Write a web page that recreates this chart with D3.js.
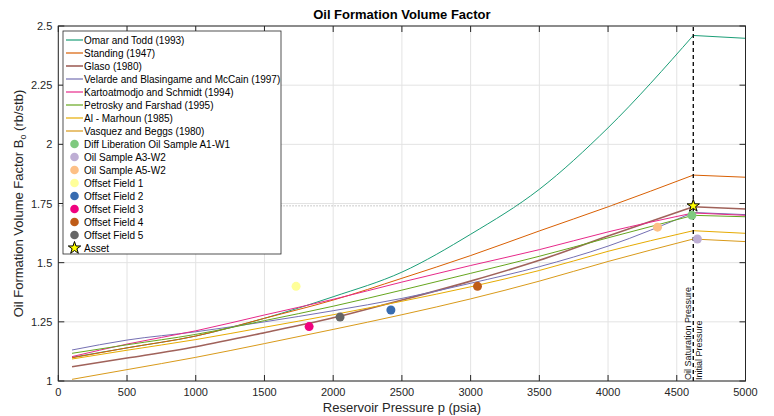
<!DOCTYPE html>
<html lang="en">
<head>
    <meta charset="UTF-8">
    <title>Oil Formation Volume Factor</title>
    <script type="text/javascript" src="https://d3js.org/d3.v7.min.js"></script>
    <style>
        body { margin: 0; background: #fff; }
        text { font-family: "Liberation Sans", Arial, sans-serif; }
    </style>
</head>
<body>
<svg class="bo"></svg>

<script type="text/javascript">

    const width = 774;
    const height = 416;
    const margin = {top: 26, right: 28.5, bottom: 35, left: 58.3};

    // pressure points (psia) at which the correlations were read
    const pressure = [100, 500, 1000, 1500, 2000, 2500, 3000, 3500, 4000, 4620, 5000];

    const omarTodd     = [1.100, 1.140, 1.190, 1.265, 1.356, 1.460, 1.620, 1.810, 2.070, 2.460, 2.448];
    const standing     = [1.098, 1.140, 1.190, 1.265, 1.342, 1.434, 1.530, 1.634, 1.736, 1.870, 1.861];
    const glaso        = [1.060, 1.097, 1.145, 1.204, 1.267, 1.342, 1.422, 1.510, 1.613, 1.736, 1.727];
    const velarde      = [1.131, 1.173, 1.208, 1.250, 1.297, 1.349, 1.413, 1.483, 1.570, 1.712, 1.703];
    const kartoatmodjo = [1.103, 1.156, 1.212, 1.279, 1.345, 1.418, 1.488, 1.555, 1.630, 1.710, 1.700];
    const petrosky     = [1.117, 1.153, 1.197, 1.255, 1.316, 1.384, 1.455, 1.527, 1.605, 1.700, 1.694];
    const alMarhoun    = [1.093, 1.130, 1.175, 1.227, 1.280, 1.337, 1.398, 1.467, 1.548, 1.635, 1.624];
    const vasquez      = [1.007, 1.048, 1.100, 1.158, 1.218, 1.280, 1.347, 1.422, 1.505, 1.600, 1.589];

    const lineNames = ["Omar and Todd (1993)", "Standing (1947)", "Glaso (1980)",
        "Velarde and Blasingame and McCain (1997)", "Kartoatmodjo and Schmidt (1994)",
        "Petrosky and Farshad (1995)", "Al - Marhoun (1985)", "Vasquez and Beggs (1980)"];
    const lineValues = [omarTodd, standing, glaso, velarde, kartoatmodjo, petrosky, alMarhoun, vasquez];
    const lineColors = ["#1b9e77", "#d95f02", "#a0625a", "#7570b3", "#e7298a", "#66a61e", "#e6ab02", "#d99a1a"];

    // measured samples
    const sampleNames = ["Diff Liberation Oil Sample A1-W1", "Oil Sample A3-W2", "Oil Sample A5-W2",
        "Offset Field 1", "Offset Field 2", "Offset Field 3", "Offset Field 4", "Offset Field 5"];
    const samplePressure = [4610, 4650, 4360, 1730, 2420, 1825, 3050, 2050];
    const sampleBo = [1.70, 1.60, 1.65, 1.40, 1.30, 1.23, 1.40, 1.27];
    const sampleColors = ["#7fc97f", "#beaed4", "#fdc086", "#ffff99", "#386cb0", "#f0027f", "#bf5b17", "#666666"];

    const assetName = "Asset";
    const assetPressure = 4620;
    const assetBo = 1.74;
    const bubblePoint = 4620;

    const xTicks = d3.range(0, 5001, 500);
    const yTicks = [1, 1.25, 1.5, 1.75, 2, 2.25, 2.5];

    let svg = d3.select(".bo")
        .attr("width", width)
        .attr("height", height);

    let scaleX = d3.scaleLinear().domain([0, 5000]).range([margin.left, width - margin.right]);
    let scaleY = d3.scaleLinear().domain([1, 2.5]).range([height - margin.bottom, margin.top]);

    const axisColor = "#262626";
    const x0 = scaleX.range()[0], x1 = scaleX.range()[1];
    const y0 = scaleY.range()[0], y1 = scaleY.range()[1];

    // grid
    let grid = svg.append("g");
    grid.selectAll(".gx").data(xTicks).enter().append("line")
        .attr("x1", d => scaleX(d)).attr("x2", d => scaleX(d))
        .attr("y1", y0).attr("y2", y1)
        .attr("stroke", "#e3e3e3").attr("stroke-width", 1);
    grid.selectAll(".gy").data(yTicks).enter().append("line")
        .attr("x1", x0).attr("x2", x1)
        .attr("y1", d => scaleY(d)).attr("y2", d => scaleY(d))
        .attr("stroke", "#e3e3e3").attr("stroke-width", 1);

    // correlation curves: smooth up to bubble point, straight above it
    let curve = d3.line()
        .x(d => scaleX(d[0]))
        .y(d => scaleY(d[1]))
        .curve(d3.curveMonotoneX);
    let straight = d3.line()
        .x(d => scaleX(d[0]))
        .y(d => scaleY(d[1]));

    let lines = svg.append("g");
    lineValues.forEach(function (vals, i) {
        let pts = pressure.map((p, j) => [p, vals[j]]);
        let sat = pts.filter(d => d[0] <= bubblePoint);
        let under = pts.filter(d => d[0] >= bubblePoint);
        lines.append("path").attr("d", curve(sat))
            .attr("fill", "none").attr("stroke", lineColors[i]).attr("stroke-width", i === 2 ? 1.6 : 1);
        lines.append("path").attr("d", straight(under))
            .attr("fill", "none").attr("stroke", lineColors[i]).attr("stroke-width", i === 2 ? 1.6 : 1);
    });

    // reference lines
    svg.append("line")
        .attr("x1", x0).attr("x2", scaleX(assetPressure))
        .attr("y1", scaleY(assetBo)).attr("y2", scaleY(assetBo))
        .attr("stroke", "#aaaaaa").attr("stroke-width", 0.8).attr("stroke-dasharray", "1.5,1.5");
    svg.append("line")
        .attr("x1", scaleX(bubblePoint)).attr("x2", scaleX(bubblePoint))
        .attr("y1", y0).attr("y2", y1)
        .attr("stroke", "#000").attr("stroke-width", 1.3).attr("stroke-dasharray", "4,3");

    svg.append("text")
        .attr("transform", "translate(" + (scaleX(bubblePoint) - 2) + "," + (y0 - 1) + ") rotate(-90)")
        .attr("font-size", 9).attr("fill", "#111")
        .text("Oil Saturation Pressure");
    svg.append("text")
        .attr("transform", "translate(" + (scaleX(bubblePoint) + 9) + "," + (y0 - 1) + ") rotate(-90)")
        .attr("font-size", 9).attr("fill", "#111")
        .text("Initial Pressure");

    // samples
    let pts = svg.append("g");
    pts.selectAll("circle").data(d3.range(sampleNames.length)).enter().append("circle")
        .attr("cx", i => scaleX(samplePressure[i]))
        .attr("cy", i => scaleY(sampleBo[i]))
        .attr("r", 4.5)
        .attr("fill", i => sampleColors[i]);

    let star = d3.symbol().type(d3.symbolStar).size(48);
    svg.append("path")
        .attr("d", star())
        .attr("transform", "translate(" + scaleX(assetPressure) + "," + scaleY(assetBo) + ")")
        .attr("fill", "#ffff00").attr("stroke", "#000").attr("stroke-width", 1);

    // axes (box with inward ticks)
    let axes = svg.append("g").attr("font-size", 11).attr("fill", axisColor);
    axes.append("rect")
        .attr("x", x0).attr("y", y1).attr("width", x1 - x0).attr("height", y0 - y1)
        .attr("fill", "none").attr("stroke", axisColor).attr("stroke-width", 1);
    xTicks.forEach(function (t) {
        let x = scaleX(t);
        axes.append("line").attr("x1", x).attr("x2", x).attr("y1", y0).attr("y2", y0 - 6)
            .attr("stroke", axisColor);
        axes.append("line").attr("x1", x).attr("x2", x).attr("y1", y1).attr("y2", y1 + 6)
            .attr("stroke", axisColor);
        axes.append("text").attr("x", x).attr("y", y0 + 15)
            .attr("text-anchor", "middle").attr("fill", axisColor).text(t);
    });
    yTicks.forEach(function (t) {
        let y = scaleY(t);
        axes.append("line").attr("x1", x0).attr("x2", x0 + 6).attr("y1", y).attr("y2", y)
            .attr("stroke", axisColor);
        axes.append("line").attr("x1", x1).attr("x2", x1 - 6).attr("y1", y).attr("y2", y)
            .attr("stroke", axisColor);
        axes.append("text").attr("x", x0 - 6).attr("y", y + 4)
            .attr("text-anchor", "end").attr("fill", axisColor).text(t);
    });

    // titles
    svg.append("text")
        .attr("x", (x0 + x1) / 2).attr("y", 19)
        .attr("text-anchor", "middle").attr("font-size", 13).attr("font-weight", "bold")
        .attr("fill", "#000")
        .text("Oil Formation Volume Factor");
    svg.append("text")
        .attr("x", (x0 + x1) / 2).attr("y", 412)
        .attr("text-anchor", "middle").attr("font-size", 13).attr("fill", axisColor)
        .text("Reservoir Pressure p (psia)");
    let yl = svg.append("text")
        .attr("transform", "translate(23," + ((y0 + y1) / 2) + ") rotate(-90)")
        .attr("text-anchor", "middle").attr("font-size", 13).attr("fill", axisColor);
    yl.append("tspan").text("Oil Formation Volume Factor B");
    yl.append("tspan").attr("font-size", 9).attr("dy", 3).text("o");
    yl.append("tspan").attr("dy", -3).text(" (rb/stb)");

    // legend
    let legend = svg.append("g").attr("font-size", 10);
    const lx = 63, ly = 31, lw = 218, lh = 223, step = 13;
    legend.append("rect")
        .attr("x", lx).attr("y", ly).attr("width", lw).attr("height", lh)
        .attr("fill", "#fff").attr("stroke", "#262626").attr("stroke-width", 0.8);

    lineNames.forEach(function (name, i) {
        let y = ly + 9 + i * step;
        legend.append("line").attr("x1", lx + 3).attr("x2", lx + 20).attr("y1", y).attr("y2", y)
            .attr("stroke", lineColors[i]).attr("stroke-width", i === 2 ? 1.6 : 1.2);
        legend.append("text").attr("x", lx + 21).attr("y", y + 3.6).attr("fill", "#000").text(name);
    });
    sampleNames.forEach(function (name, i) {
        let y = ly + 9 + (i + lineNames.length) * step;
        legend.append("circle").attr("cx", lx + 11.5).attr("cy", y).attr("r", 4.3)
            .attr("fill", sampleColors[i]);
        legend.append("text").attr("x", lx + 21).attr("y", y + 3.6).attr("fill", "#000").text(name);
    });
    let ay = ly + 9 + (lineNames.length + sampleNames.length) * step;
    legend.append("path").attr("d", star())
        .attr("transform", "translate(" + (lx + 11.5) + "," + ay + ")")
        .attr("fill", "#ffff00").attr("stroke", "#000").attr("stroke-width", 1);
    legend.append("text").attr("x", lx + 21).attr("y", ay + 3.6).attr("fill", "#000").text(assetName);

</script>
</body>
</html>
